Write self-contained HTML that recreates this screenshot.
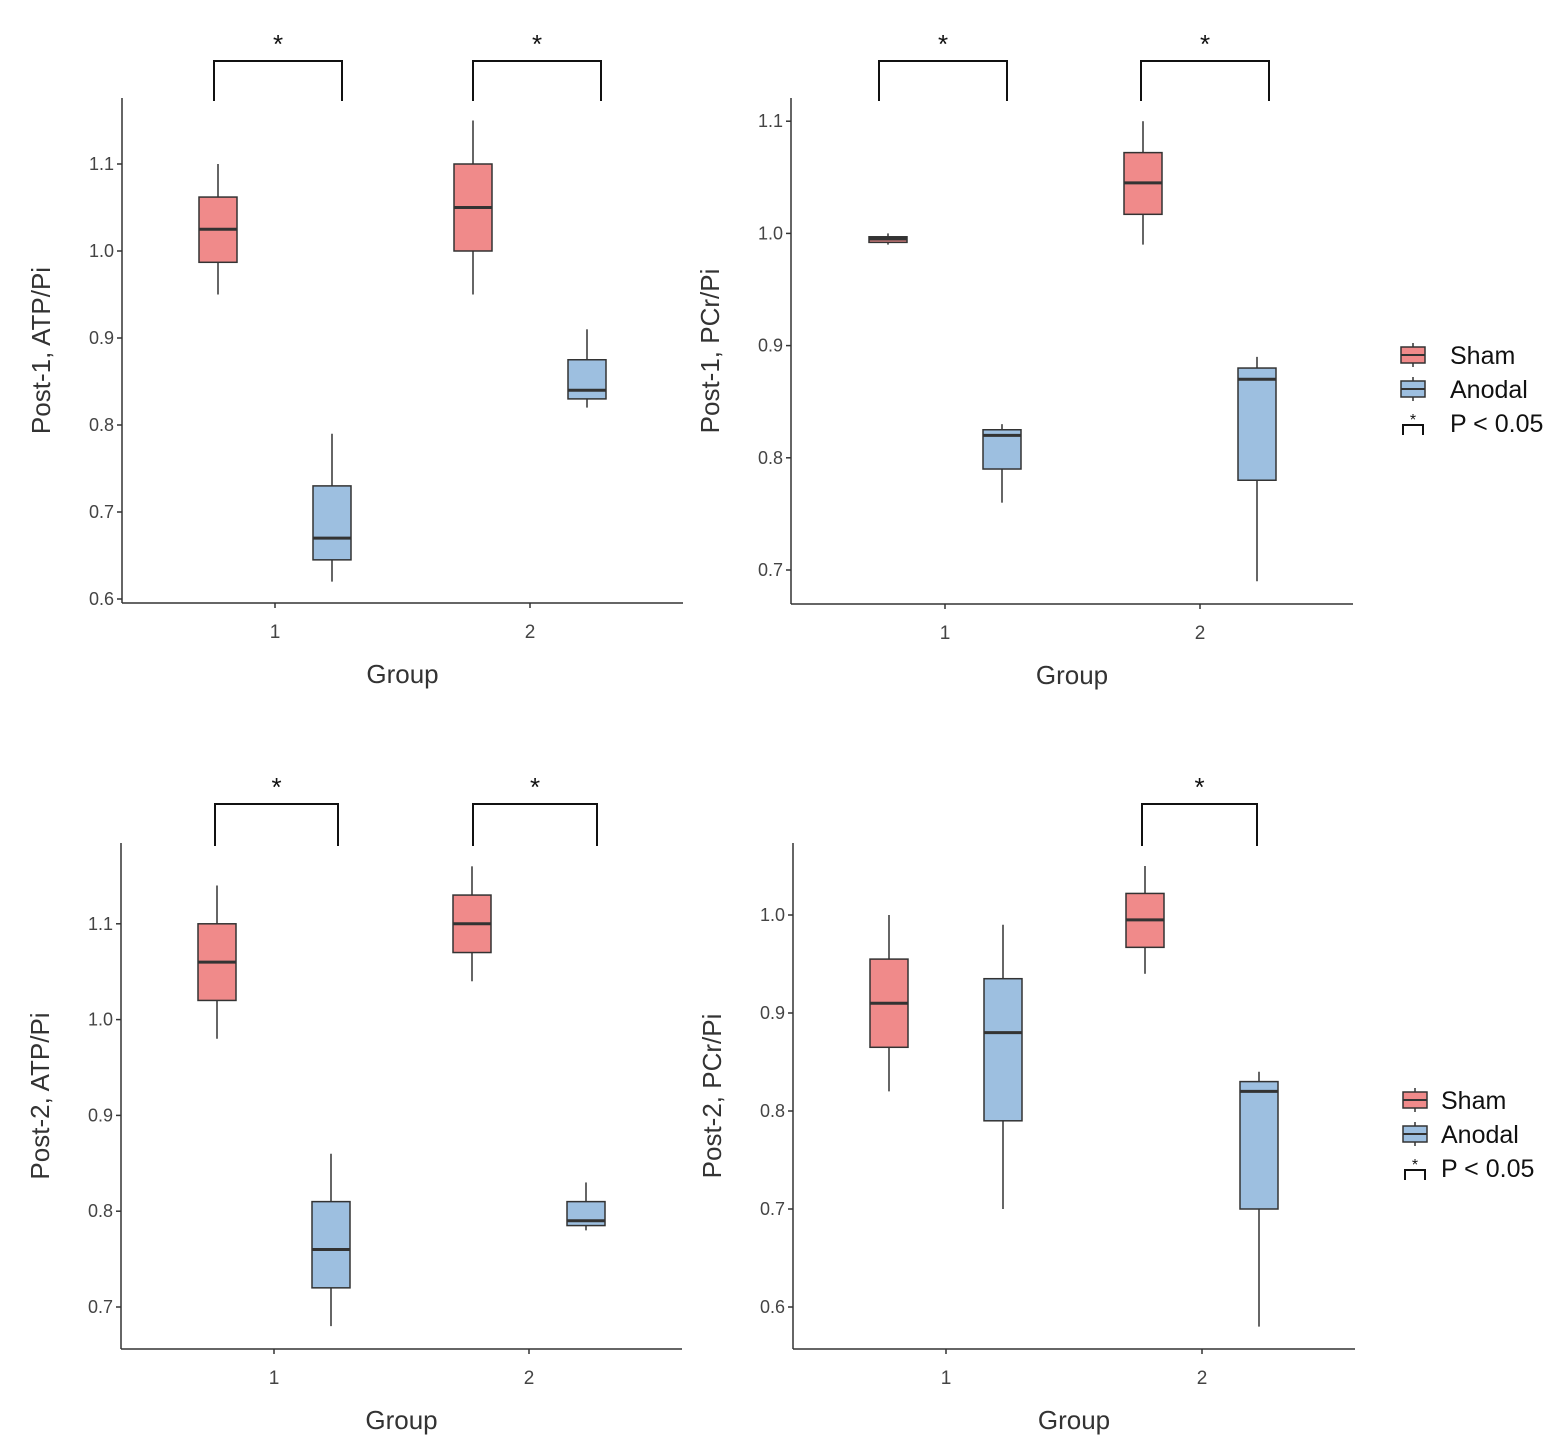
<!DOCTYPE html>
<html><head><meta charset="utf-8"><style>
body{margin:0;background:#fff}
svg{font-family:"Liberation Sans",sans-serif}
</style></head><body>
<svg id="s" width="1566" height="1448" viewBox="0 0 1566 1448"></svg>
<script>
const groups=["1","2"];
const p1Sham=[[0.95,0.987,1.025,1.062,1.10],[0.95,1.0,1.05,1.10,1.15]];
const p1Anod=[[0.62,0.645,0.67,0.73,0.79],[0.82,0.83,0.84,0.875,0.91]];
const p1Ticks=[0.6,0.7,0.8,0.9,1.0,1.1];
const p2Sham=[[0.99,0.992,0.995,0.997,1.0],[0.99,1.017,1.045,1.072,1.10]];
const p2Anod=[[0.76,0.79,0.82,0.825,0.83],[0.69,0.78,0.87,0.88,0.89]];
const p2Ticks=[0.7,0.8,0.9,1.0,1.1];
const p3Sham=[[0.98,1.02,1.06,1.10,1.14],[1.04,1.07,1.10,1.13,1.16]];
const p3Anod=[[0.68,0.72,0.76,0.81,0.86],[0.78,0.785,0.79,0.81,0.83]];
const p3Ticks=[0.7,0.8,0.9,1.0,1.1];
const p4Sham=[[0.82,0.865,0.91,0.955,1.0],[0.94,0.967,0.995,1.022,1.05]];
const p4Anod=[[0.70,0.79,0.88,0.935,0.99],[0.58,0.70,0.82,0.83,0.84]];
const p4Ticks=[0.6,0.7,0.8,0.9,1.0];
const NS="http://www.w3.org/2000/svg",S=document.getElementById('s');
function el(t,a,p,txt){const e=document.createElementNS(NS,t);for(const k in a)e.setAttribute(k,a[k]);if(txt!==undefined)e.textContent=txt;(p||S).appendChild(e);return e;}
function panel(o){
 const g=el('g',{});
 
 
 const y=v=>o.y0-(v-o.v0)*o.ppu;
 const x=i=>o.c1+i*o.cd;
 el('line',{x1:o.ax,y1:o.top,x2:o.ax,y2:o.bot,stroke:'#333','stroke-width':1.5},g);
 el('line',{x1:o.ax,y1:o.bot,x2:o.right,y2:o.bot,stroke:'#333','stroke-width':1.5},g);
 o.ticks.forEach(t=>{el('line',{x1:o.ax-5,y1:y(t),x2:o.ax,y2:y(t),stroke:'#333','stroke-width':1.5},g);
  const tl=el('text',{x:o.ax-8,y:y(t)+6,'text-anchor':'end','font-size':18,fill:'#444'},g,t.toFixed(1));});
 groups.forEach((c,i)=>{el('line',{x1:x(i),y1:o.bot,x2:x(i),y2:o.bot+5,stroke:'#333','stroke-width':1.5},g);
  const tl=el('text',{x:x(i),y:o.bot+35,'text-anchor':'middle','font-size':19,fill:'#444'},g,c);});
 const xl=el('text',{x:(o.ax+o.right)/2,y:o.bot+80,'text-anchor':'middle','font-size':26,fill:'#333'},g,'Group');
 const yl=el('text',{transform:`translate(${o.ax-72},${(o.top+o.bot)/2}) rotate(-90)`,'text-anchor':'middle','font-size':26,fill:'#333'},g,o.ylab);
 [[o.sham,'#f08a8a',-57,'sham'],[o.anod,'#9dbfe0',57,'anodal']].forEach(([d,col,off,nm])=>{
  d.forEach((b,i)=>{const cx=x(i)+off;const bg=el('g',{},g);
   
   
   el('line',{x1:cx,y1:y(b[0]),x2:cx,y2:y(b[4]),stroke:'#333','stroke-width':1.5},bg);
   el('rect',{x:cx-19,y:y(b[3]),width:38,height:Math.max(1,y(b[1])-y(b[3])),fill:col,stroke:'#333','stroke-width':1.5},bg);
   el('line',{x1:cx-19,y1:y(b[2]),x2:cx+19,y2:y(b[2]),stroke:'#333','stroke-width':3},bg);
  });});
 o.br.forEach(([i,bl,brr])=>{const bg=el('g',{},g);
  
  
  const a=x(i)-bl,b=x(i)+brr;
  el('path',{d:`M${a},${o.top+3}V${o.btop}H${b}V${o.top+3}`,fill:'none',stroke:'#111','stroke-width':2},bg);
  el('text',{x:(a+b)/2,y:o.btop-8,'text-anchor':'middle','font-size':26,fill:'#111'},bg,'*');});
}
panel({name:'panel-post1-atp',ax:122,top:98,bot:603,right:683,y0:599,v0:0.6,ppu:870,c1:275,cd:255,ticks:p1Ticks,sham:p1Sham,anod:p1Anod,ylab:'Post-1, ATP/Pi',br:[[0,61,67],[1,57,71]],btop:61});
panel({name:'panel-post1-pcr',ax:791,top:98,bot:604,right:1353,y0:570,v0:0.7,ppu:1122,c1:945,cd:255,ticks:p2Ticks,sham:p2Sham,anod:p2Anod,ylab:'Post-1, PCr/Pi',br:[[0,66,62],[1,59,69]],btop:61});
panel({name:'panel-post2-atp',ax:121,top:843,bot:1349,right:682,y0:1307,v0:0.7,ppu:958,c1:274,cd:255,ticks:p3Ticks,sham:p3Sham,anod:p3Anod,ylab:'Post-2, ATP/Pi',br:[[0,59,64],[1,56,68]],btop:804});
panel({name:'panel-post2-pcr',ax:793,top:843,bot:1349,right:1355,y0:1307,v0:0.6,ppu:980,c1:946,cd:256,ticks:p4Ticks,sham:p4Sham,anod:p4Anod,ylab:'Post-2, PCr/Pi',br:[[1,60,55]],btop:804});
function legend(lx,tx,y0,name){
 const g=el('g',{});
 [['#f08a8a','Sham'],['#9dbfe0','Anodal']].forEach(([c,t],i)=>{const yy=y0+i*34;
  el('line',{x1:lx+12,y1:yy-12,x2:lx+12,y2:yy+12,stroke:'#333','stroke-width':1.5},g);
  el('rect',{x:lx,y:yy-8,width:24,height:16,fill:c,stroke:'#333','stroke-width':1.5},g);
  el('line',{x1:lx,y1:yy,x2:lx+24,y2:yy,stroke:'#333','stroke-width':2},g);
  el('text',{x:tx,y:yy+9,'font-size':25,fill:'#111'},g,t);});
 const yy=y0+68;
 el('path',{d:`M${lx+2},${yy+12}V${yy+2}H${lx+22}V${yy+12}`,fill:'none',stroke:'#111','stroke-width':2},g);
 el('text',{x:lx+12,y:yy+2,'text-anchor':'middle','font-size':16,fill:'#111'},g,'*');
 el('text',{x:tx,y:yy+9,'font-size':25,fill:'#111'},g,'P < 0.05');
}
legend(1401,1450,355,'legend-top');
legend(1403,1441,1100,'legend-bottom');
</script>
</body></html>
